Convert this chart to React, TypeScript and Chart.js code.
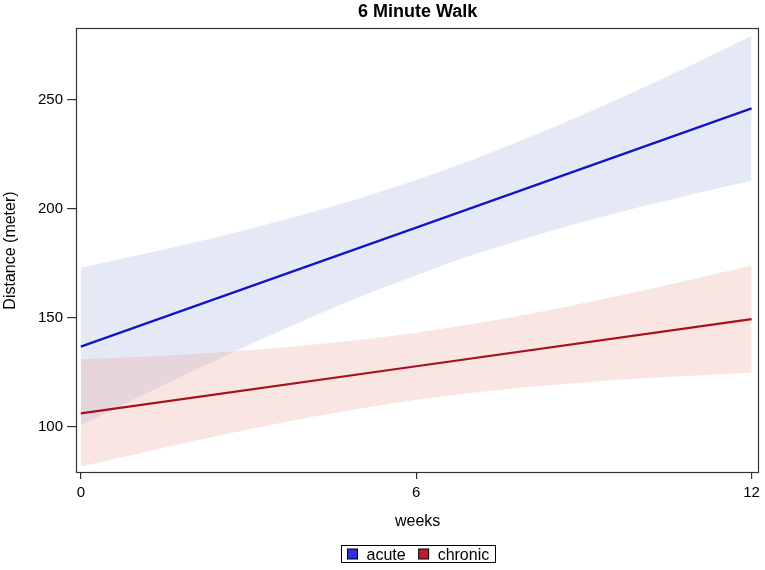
import React, { useEffect, useRef } from "react";
import { Chart, registerables } from "chart.js";

Chart.register(...registerables);

// ---- data ----
const chartTitle = "6 Minute Walk";
const xTitle = "weeks";
const yTitle = "Distance (meter)";
const seriesNames = ["acute", "chronic"];

const xTicks = [0, 6, 12];
const yTicks = [100, 150, 200, 250];

const lineWeeks = [0, 6, 12];
const acuteFit = [136.7, 191.3, 246.0];
const chronicFit = [106.1, 127.7, 149.3];

const bandWeeks = [0, 1, 2, 3, 4, 5, 6, 7, 8, 9, 10, 11, 12];
const acuteUpper = [172.9, 178.5, 184.4, 190.6, 197.4, 204.8, 213.1, 222.3, 232.5, 243.3, 254.8, 266.8, 279.2];
const acuteLower = [100.5, 113.1, 125.4, 137.4, 148.8, 159.6, 169.5, 178.7, 186.7, 194.1, 200.8, 207.0, 212.8];
const chronicUpper = [130.9, 131.9, 133.3, 135.1, 137.2, 139.9, 143.1, 147.1, 151.6, 156.7, 162.1, 167.9, 173.9];
const chronicLower = [81.7, 87.5, 93.3, 98.7, 103.8, 108.3, 112.3, 115.5, 118.2, 120.3, 122.1, 123.5, 124.7];

// ---- styles ----
const FONT = "'Liberation Sans', Arial, Helvetica, sans-serif";
const acuteLineColor = "#1212c8";
const chronicLineColor = "#a8101e";
const acuteBandColor = "rgba(180,192,226,0.35)";
const chronicBandColor = "rgba(230,150,140,0.25)";
const legendColors = ["#3030dc", "#be1a30"];

const pts = (xs: number[], ys: number[]) => xs.map((x, i) => ({ x, y: ys[i] }));

const framePlugin = {
  id: "frameAndLegend",
  afterDraw(chart: any) {
    const { ctx, chartArea } = chart;
    const { left, top, right, bottom } = chartArea;
    ctx.save();
    // frame
    ctx.strokeStyle = "#333333";
    ctx.lineWidth = 1.2;
    ctx.strokeRect(Math.round(left) - 0.5, Math.round(top) - 0.5, Math.round(right - left) + 1, Math.round(bottom - top) + 1);
    // title
    const cx = (left + right) / 2;
    ctx.fillStyle = "#000";
    ctx.font = `bold 18px ${FONT}`;
    ctx.textAlign = "center";
    ctx.textBaseline = "alphabetic";
    ctx.fillText(chartTitle, cx, 17);
    // legend
    ctx.font = `16px ${FONT}`;
    ctx.textAlign = "left";
    ctx.lineWidth = 1;
    const sw = 10;
    const gapSwatchText = 9;
    const gapItems = 13;
    const padX = 6;
    const widths = seriesNames.map((n) => ctx.measureText(n).width);
    let total = padX * 2;
    widths.forEach((w, i) => {
      total += sw + gapSwatchText + w + (i < widths.length - 1 ? gapItems : 0);
    });
    const bx = Math.round(cx - total / 2) + 0.5;
    const by = 545.5;
    const bh = 17;
    ctx.strokeStyle = "#000";
    ctx.strokeRect(bx, by, Math.round(total), bh);
    let x = bx + padX;
    seriesNames.forEach((n, i) => {
      ctx.fillStyle = legendColors[i];
      ctx.fillRect(x, by + 3.5, sw, sw);
      ctx.strokeStyle = "#000";
      ctx.strokeRect(x, by + 3.5, sw, sw);
      ctx.fillStyle = "#000";
      ctx.fillText(n, x + sw + gapSwatchText, by + 14.5);
      x += sw + gapSwatchText + widths[i] + gapItems;
    });
    ctx.restore();
  },
};

const bandBase = {
  borderWidth: 0,
  borderColor: "rgba(0,0,0,0)",
  pointRadius: 0,
  cubicInterpolationMode: "monotone",
};

export default function App() {
  const canvasRef = useRef<HTMLCanvasElement | null>(null);

  useEffect(() => {
    if (!canvasRef.current) return;
    Chart.defaults.font.family = FONT;
    Chart.defaults.color = "#000";
    const chart = new Chart(canvasRef.current, {
      type: "line",
      data: {
        datasets: [
          {
            label: seriesNames[0],
            data: pts(lineWeeks, acuteFit),
            borderColor: acuteLineColor,
            borderWidth: 2.2,
            pointRadius: 0,
            fill: false,
            order: 0,
          },
          {
            label: seriesNames[1],
            data: pts(lineWeeks, chronicFit),
            borderColor: chronicLineColor,
            borderWidth: 2.2,
            pointRadius: 0,
            fill: false,
            order: 0,
          },
          { ...bandBase, label: "acute lower", data: pts(bandWeeks, acuteLower), fill: false, order: 4 },
          {
            ...bandBase,
            label: "acute upper",
            data: pts(bandWeeks, acuteUpper),
            backgroundColor: acuteBandColor,
            fill: { target: 2 },
            order: 3,
          },
          { ...bandBase, label: "chronic lower", data: pts(bandWeeks, chronicLower), fill: false, order: 2 },
          {
            ...bandBase,
            label: "chronic upper",
            data: pts(bandWeeks, chronicUpper),
            backgroundColor: chronicBandColor,
            fill: { target: 4 },
            order: 1,
          },
        ],
      },
      options: {
        animation: false,
        responsive: true,
        maintainAspectRatio: false,
        layout: { padding: { left: 0, right: 6, top: 29, bottom: 38 } },
        plugins: {
          legend: { display: false },
          title: { display: false },
          tooltip: { enabled: false },
        },
        scales: {
          x: {
            type: "linear",
            min: -0.068,
            max: 12.12,
            afterBuildTicks: (s: any) => {
              s.ticks = xTicks.map((v) => ({ value: v }));
            },
            afterFit: (s: any) => {
              s.height = 60;
            },
            grid: { display: true, drawOnChartArea: false, drawTicks: true, tickLength: 7, color: "#333333", lineWidth: 1.2 },
            border: { display: false },
            ticks: { font: { size: 15 }, padding: 5, color: "#000", maxRotation: 0 },
            title: { display: true, text: xTitle, font: { size: 16 }, padding: { top: 0, bottom: 1 }, color: "#000" },
          },
          y: {
            type: "linear",
            min: 79.2,
            max: 282.4,
            afterBuildTicks: (s: any) => {
              s.ticks = yTicks.map((v) => ({ value: v }));
            },
            afterFit: (s: any) => {
              s.width = 77;
            },
            grid: { display: true, drawOnChartArea: false, drawTicks: true, tickLength: 10, color: "#333333", lineWidth: 1.2 },
            border: { display: false },
            ticks: { font: { size: 15 }, padding: 4, color: "#000" },
            title: { display: true, text: yTitle, font: { size: 16 }, padding: { top: 1, bottom: 0 }, color: "#000" },
          },
        },
      },
      plugins: [framePlugin],
    } as any);
    return () => chart.destroy();
  }, []);

  return (
    <div style={{ position: "absolute", left: 0, top: 0, width: 765, height: 570, background: "#fff" }}>
      <canvas ref={canvasRef} />
    </div>
  );
}
